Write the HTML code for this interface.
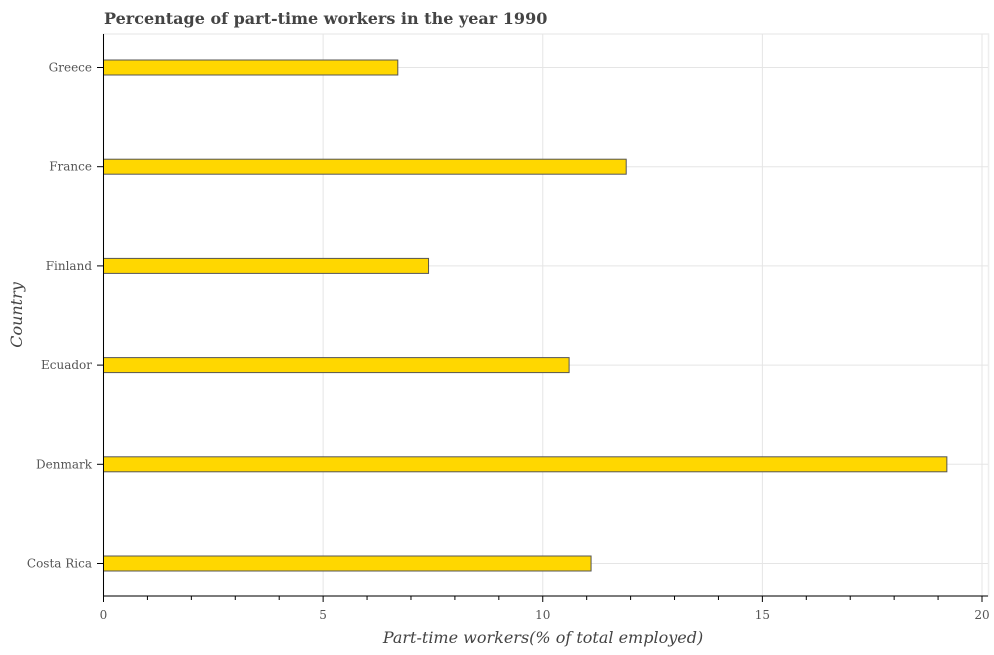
<!DOCTYPE html>
<html><head><meta charset="utf-8"><style>
body{margin:0;background:#fff;}
svg text{font-family:"DejaVu Serif","Liberation Serif",serif;}
</style></head><body>
<svg id="chart" width="994" height="650" xmlns="http://www.w3.org/2000/svg">
<text x="104" y="24" font-size="16" font-weight="bold" fill="#444">Percentage of part-time workers in the year 1990</text>
<rect x="103.5" y="34" width="885" height="562" fill="#fff" stroke="#eee" stroke-width="1.5"/>
<g id="grid"></g>
<g id="bars"></g>
<g id="axes"></g>
<text x="543" y="643" font-size="16" font-style="italic" text-anchor="middle" fill="#444">Part-time workers(% of total employed)</text>
<text transform="translate(22,315) rotate(-90)" font-size="16" font-style="italic" text-anchor="middle" fill="#444">Country</text>
</svg>
<script>
const categories = ["Greece","France","Finland","Ecuador","Denmark","Costa Rica"];
const values = [6.7, 11.9, 7.4, 10.6, 19.2, 11.1];
const xTicks = [0,5,10,15,20];
const NS="http://www.w3.org/2000/svg";
const x0=103.5, x1=982, xMax=20;
const xs=v=>x0+(x1-x0)*v/xMax;
const ys=i=>67.5+i*99.2;
function mk(tag,attrs,parent){const e=document.createElementNS(NS,tag);for(const k in attrs)e.setAttribute(k,attrs[k]);parent.appendChild(e);return e;}
const grid=document.getElementById('grid'),bars=document.getElementById('bars'),axes=document.getElementById('axes');
xTicks.forEach(t=>{
  const g=mk('line',{x1:xs(t),x2:xs(t),y1:34,y2:596,stroke:'#e5e5e5','stroke-width':1},grid);
  
  
  const tk=mk('line',{x1:xs(t),x2:xs(t),y1:596,y2:602,stroke:'#000'},axes);
  
  
  const tl=mk('text',{x:xs(t),y:619,'font-size':12,'text-anchor':'middle',fill:'#555'},axes);
  tl.textContent=t;
  
  
});
for(let m=0;m<=xMax;m++){ if(m%5===0)continue;
  const tk=mk('line',{x1:xs(m),x2:xs(m),y1:596,y2:600,stroke:'#000'},axes);
  
  
}
categories.forEach((c,i)=>{
  const y=ys(i);
  const g=mk('line',{x1:x0,x2:988,y1:y,y2:y,stroke:'#e5e5e5'},grid);
  
  
  const b=mk('rect',{x:x0,y:y-7.5,width:xs(values[i])-x0,height:15,fill:'#ffd700',stroke:'#555','stroke-width':1},bars);
  
  
  const tk=mk('line',{x1:97,x2:x0,y1:y,y2:y,stroke:'#000'},axes);
  
  
  const tl=mk('text',{x:92,y:y+4,'font-size':12,'text-anchor':'end',fill:'#555'},axes);
  tl.textContent=c;
  
  
});
const ax=mk('line',{x1:x0,x2:x0,y1:34,y2:596,stroke:'#000'},axes);


const ax2=mk('line',{x1:x0,x2:988,y1:596,y2:596,stroke:'#000'},axes);


</script>
</body></html>
